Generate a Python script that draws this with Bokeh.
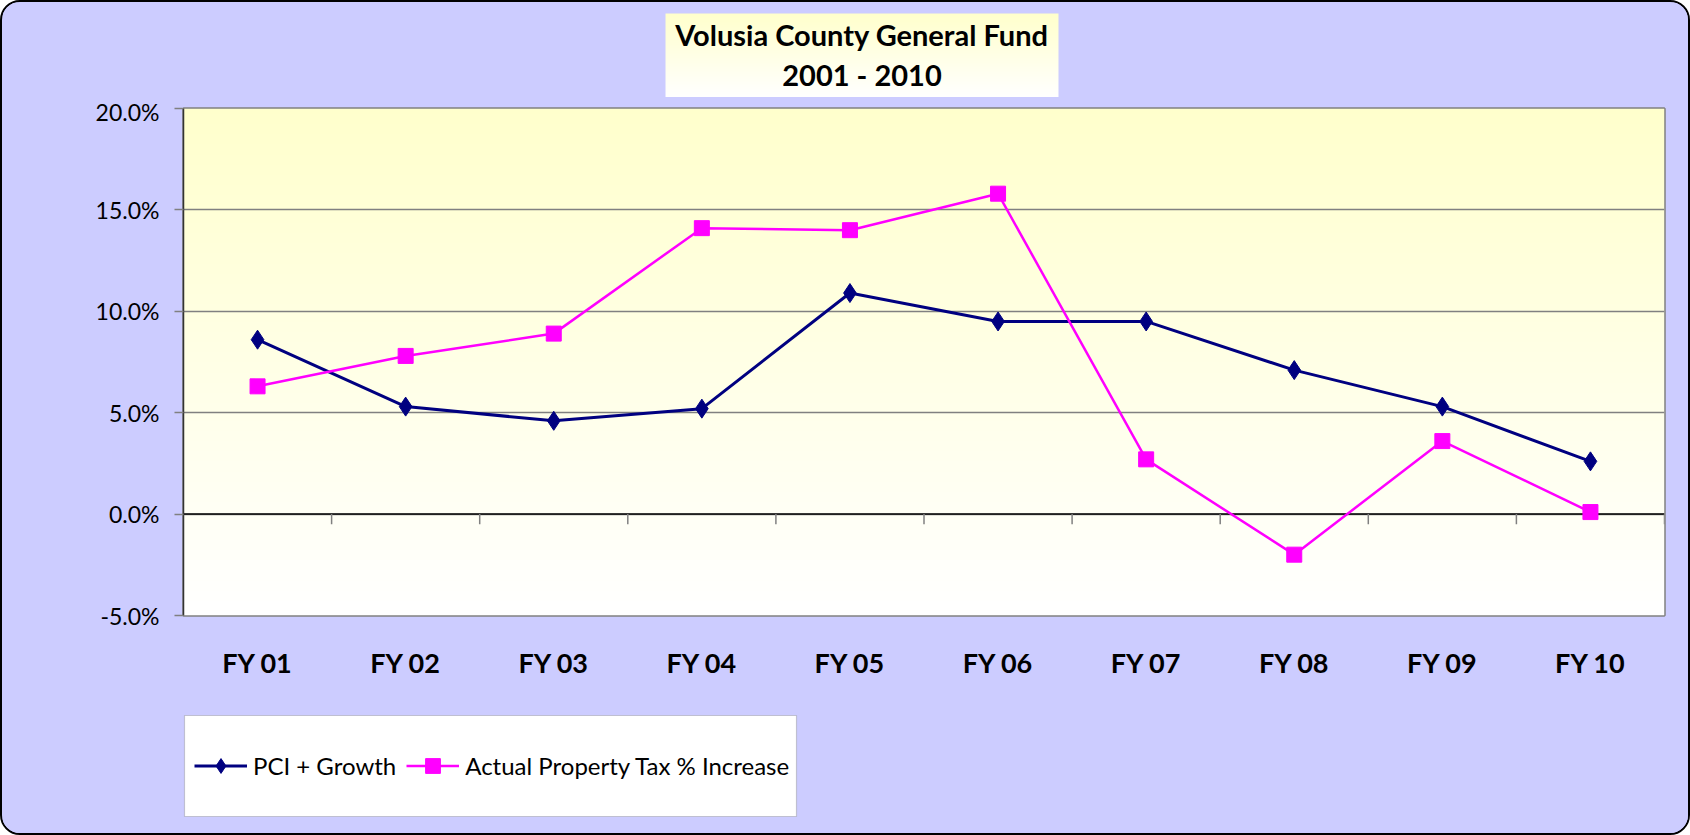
import numpy as np
from bokeh.plotting import figure
from bokeh.layouts import column
from bokeh.models import (FactorRange, Range1d, FixedTicker, NumeralTickFormatter,
                          Span, Legend, LegendItem, ColumnDataSource, Label, BoxAnnotation)
from bokeh.transform import dodge
from bokeh.embed import file_html
from bokeh.resources import INLINE

# ---- data ----
categories = ["FY 01", "FY 02", "FY 03", "FY 04", "FY 05",
              "FY 06", "FY 07", "FY 08", "FY 09", "FY 10"]
pci_growth = [0.086, 0.053, 0.046, 0.052, 0.109, 0.095, 0.095, 0.071, 0.053, 0.026]
actual_tax = [0.063, 0.078, 0.089, 0.141, 0.140, 0.158, 0.027, -0.020, 0.036, 0.001]
y_ticks = [-0.05, 0.0, 0.05, 0.10, 0.15, 0.20]
series_names = ["PCI + Growth", "Actual Property Tax % Increase"]
title_lines = ["Volusia County General Fund", "2001 - 2010"]

W = 1686
FONT = "Lato"
LAV = "#CCCCFF"
NAVY = "#000080"
MAG = "#FF00FF"
BL, BR = 181, 24          # shared side borders -> frame spans page x 183..1664
FX0, FX1 = 183, 1664


def gradient(n=200):
    t = np.linspace(0, 1, n)  # bottom -> top
    img = np.empty((n, 1), dtype=np.uint32)
    v = img.view(dtype=np.uint8).reshape((n, 1, 4))
    v[:, 0, 0] = 255
    v[:, 0, 1] = 255
    v[:, 0, 2] = np.round(255 - 51 * t).astype(np.uint8)
    v[:, 0, 3] = 255
    return img


def panel(height):
    f = figure(width=W, height=height, x_range=Range1d(FX0, FX1), y_range=Range1d(0, height),
               x_axis_type=None, y_axis_type=None, output_backend="svg", toolbar_location=None,
               min_border_left=BL, min_border_right=BR, min_border_top=0, min_border_bottom=0)
    f.border_fill_color = LAV
    f.background_fill_color = LAV
    f.outline_line_color = None
    f.xgrid.grid_line_color = None
    f.ygrid.grid_line_color = None
    return f


# ---------------- title panel (page y 2..97) ----------------
T = panel(95)
T.image_rgba(image=[gradient()], x=665, y=0, dw=393, dh=84, level="image")
for txt, yy in zip(title_lines, [63, 23]):
    T.add_layout(Label(x=861.5, y=yy, text=txt, text_align="center", text_baseline="middle",
                       text_font=FONT, text_font_size="29px", text_font_style="bold",
                       text_color="black"))

# ---------------- main chart (page y 97..700) ----------------
M = figure(x_range=FactorRange(*categories), y_range=Range1d(y_ticks[0], y_ticks[-1]),
           width=W, height=603, output_backend="svg", toolbar_location=None,
           min_border_left=BL, min_border_right=BR, min_border_top=11, min_border_bottom=85)
M.border_fill_color = LAV
M.background_fill_color = "#FFFFFF"
M.outline_line_color = "#808080"
M.outline_line_width = 2.5

M.image_rgba(image=[gradient()], x=0, y=y_ticks[0], dw=len(categories),
             dh=y_ticks[-1] - y_ticks[0], level="image")

M.xgrid.grid_line_color = None
M.ygrid.grid_line_color = "#808080"
M.ygrid.grid_line_width = 1.5

M.add_layout(Span(location=0, dimension="width", line_color="black", line_width=1.5,
                  level="underlay"))

tick_src = ColumnDataSource(dict(cat=categories, y0=[0.0] * len(categories),
                                 y1=[-0.005] * len(categories)))
M.segment(x0=dodge("cat", 0.5, range=M.x_range), x1=dodge("cat", 0.5, range=M.x_range),
          y0="y0", y1="y1", source=tick_src, line_color="#808080", line_width=1.5)

M.yaxis.ticker = FixedTicker(ticks=y_ticks)
M.yaxis.formatter = NumeralTickFormatter(format="0.0%")
M.yaxis.major_label_text_font = FONT
M.yaxis.major_label_text_font_size = "23px"
M.yaxis.major_label_text_color = "black"
M.yaxis.major_tick_out = 9
M.yaxis.major_tick_in = 0
M.yaxis.minor_tick_line_color = None
M.yaxis.major_tick_line_color = "#808080"
M.yaxis.major_tick_line_width = 1.5
M.yaxis.axis_line_color = "#333333"
M.yaxis.axis_line_width = 1.5
M.yaxis.major_label_standoff = 15

M.xaxis.axis_line_color = None
M.xaxis.major_tick_line_color = None
M.xaxis.major_tick_out = 0
M.xaxis.major_label_text_font = FONT
M.xaxis.major_label_text_font_size = "27px"
M.xaxis.major_label_text_font_style = "bold"
M.xaxis.major_label_text_color = "black"
M.xaxis.major_label_standoff = 30

src = ColumnDataSource(dict(cat=categories, pci=pci_growth, tax=actual_tax))
M.line("cat", "pci", source=src, line_color=NAVY, line_width=3)
M.scatter("cat", "pci", source=src, marker="diamond", size=19,
          fill_color=NAVY, line_color=NAVY)
M.line("cat", "tax", source=src, line_color=MAG, line_width=2.5)
M.scatter("cat", "tax", source=src, marker="square", size=15,
          fill_color=MAG, line_color=MAG)

# ---------------- legend panel (page y 700..833) ----------------
L = panel(133)
L.add_layout(BoxAnnotation(left=FX0 + 1, right=FX0 + 613, bottom=17, top=118,
                           fill_color="white", fill_alpha=1, line_color="#666666",
                           line_width=1.2, level="underlay"))
# legend-swatch renderers: a single point placed outside the visible panel
swatch = ColumnDataSource(dict(x=[FX0 - 5000, FX0 - 4999], y=[-5000, -5000]))
a1 = L.line("x", "y", source=swatch, line_color=NAVY, line_width=3)
b1 = L.scatter("x", "y", source=swatch, marker="diamond", fill_color=NAVY, line_color=NAVY)
a2 = L.line("x", "y", source=swatch, line_color=MAG, line_width=2.5)
b2 = L.scatter("x", "y", source=swatch, marker="square", fill_color=MAG, line_color=MAG)
legend = Legend(items=[LegendItem(label=series_names[0], renderers=[a1, b1]),
                       LegendItem(label=series_names[1], renderers=[a2, b2])],
                orientation="horizontal", location=(11, 49), padding=0, margin=0,
                spacing=10, glyph_width=53, glyph_height=37, label_height=37,
                label_standoff=6, label_text_font=FONT, label_text_font_size="24px",
                label_text_color="black", background_fill_alpha=0, border_line_alpha=0)
L.add_layout(legend)

layout = column(T, M, L, spacing=0,
                styles={"border": "2px solid black", "border-radius": "20px",
                        "overflow": "hidden", "background-color": LAV})

open("out.html", "w").write(file_html(layout, INLINE))
